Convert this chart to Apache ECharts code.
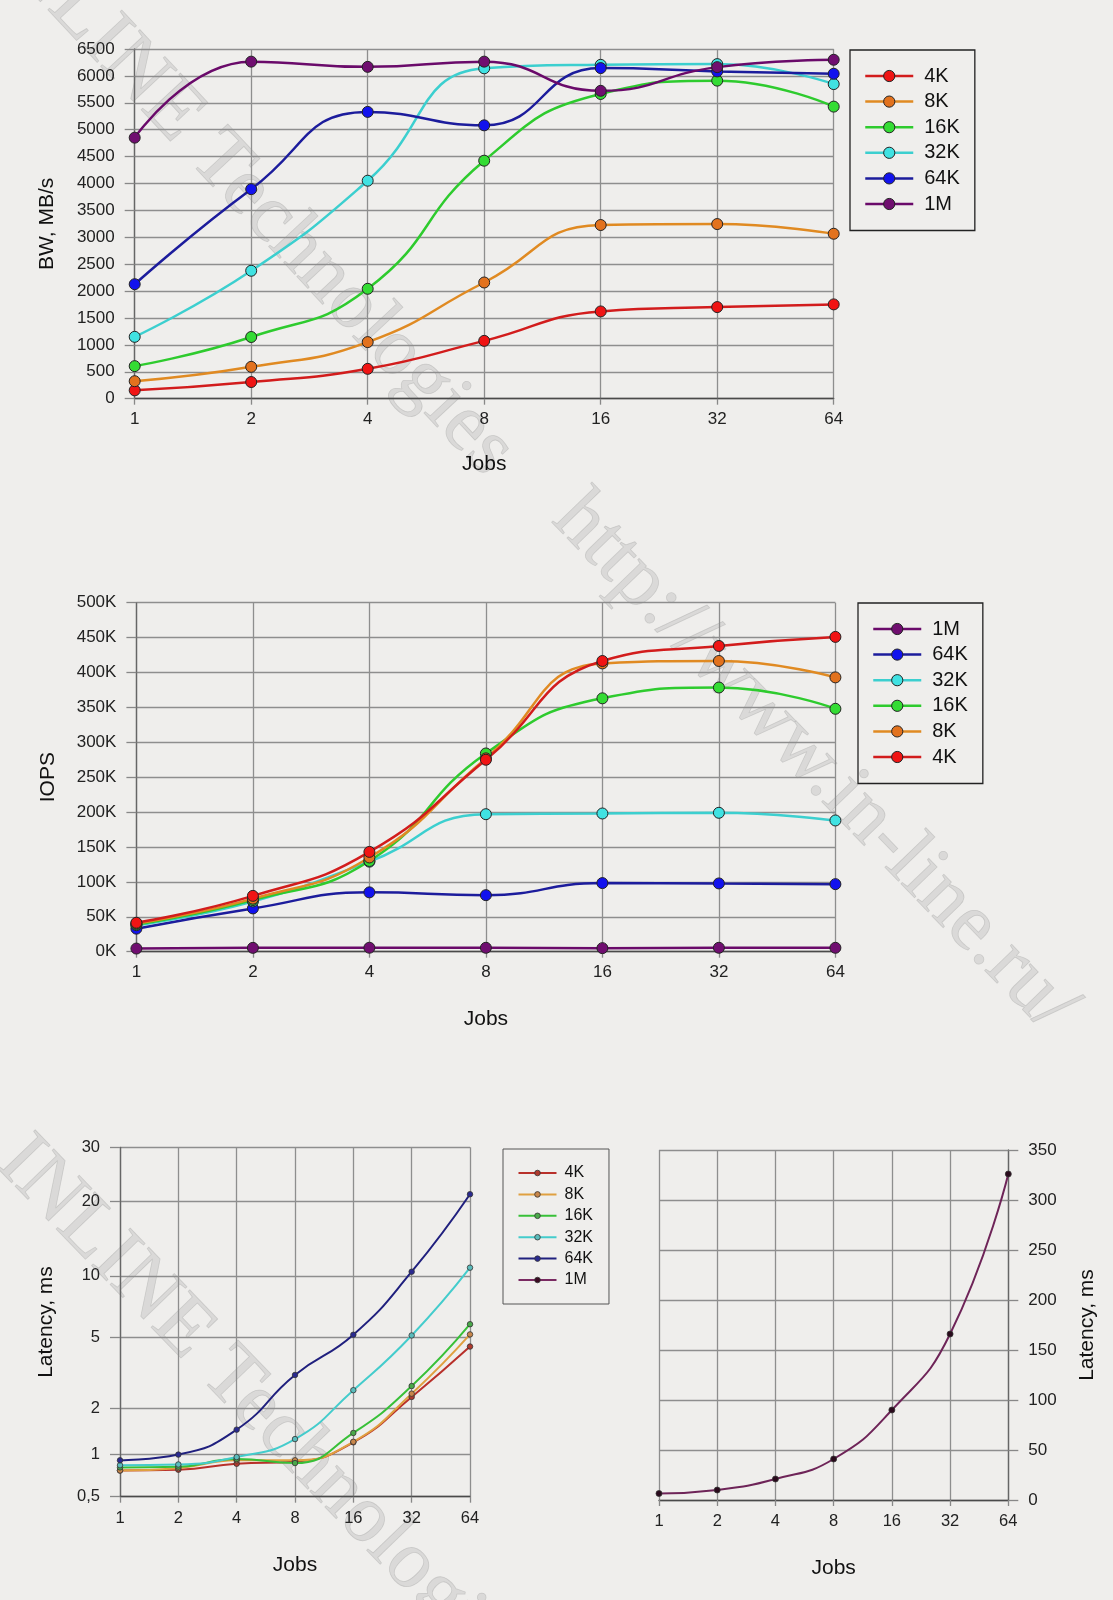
<!DOCTYPE html>
<html>
<head>
<meta charset="utf-8">
<title>Jobs: BW, IOPS, Latency</title>
<script src="https://cdn.jsdelivr.net/npm/echarts@6/dist/echarts.min.js"></script>
<style>
  html, body { margin: 0; padding: 0; background: #efeeec; }
  .layer { position: absolute; left: 0; top: 0; width: 1113px; height: 1600px; }
</style>
</head>
<body>
<div id="mark" class="layer"></div>
<div id="bw" class="layer"></div>
<div id="iops" class="layer"></div>
<div id="lat" class="layer"></div>
<div id="lat1m" class="layer"></div>
<script>
const jobs = ['1', '2', '4', '8', '16', '32', '64'];

// bandwidth, MB/s
const bw4K = [155, 310, 555, 1075, 1622, 1703, 1753];
const bw8K = [325, 592, 1052, 2160, 3228, 3246, 3066];
const bw16K = [605, 1147, 2043, 4424, 5664, 5912, 5429];
const bw32K = [1150, 2378, 4052, 6141, 6206, 6219, 5848];
const bw64K = [2128, 3895, 5331, 5081, 6145, 6083, 6040];
const bw1M = [4852, 6265, 6168, 6265, 5723, 6163, 6300];

// IOPS
const iops1M = [4500, 5500, 5700, 5600, 5100, 5600, 5600];
const iops64K = [33000, 62000, 85000, 81000, 98300, 97800, 96800];
const iops32K = [38000, 72000, 129000, 197000, 198000, 199000, 188000];
const iops16K = [39000, 74000, 130000, 284000, 363000, 378500, 348000];
const iops8K = [40500, 76000, 135000, 277000, 413000, 416500, 393000];
const iops4K = [41500, 80000, 143000, 275000, 416500, 438000, 451000];

// latency, ms
const lat4K = [0.77, 0.78, 0.86, 0.89, 1.2, 2.31, 4.44];
const lat8K = [0.77, 0.80, 0.91, 0.91, 1.21, 2.41, 5.17];
const lat16K = [0.81, 0.82, 0.93, 0.87, 1.38, 2.66, 5.8];
const lat32K = [0.84, 0.85, 0.96, 1.26, 2.52, 5.11, 10.8];
const lat64K = [0.91, 1.0, 1.45, 3.07, 5.15, 10.4, 21.1];
const lat1M = [6.5, 10, 21, 41, 90, 166, 326];

// tick labels of the latency axis and where the source puts them (0..1, bottom to top)
const latTicks = [0.5, 1, 2, 5, 10, 20, 30];
const latStops = [0, 0.1205, 0.2538, 0.456, 0.6318, 0.8452, 1];

const FONT = '"Liberation Sans", Arial, sans-serif';

// log interpolation between neighbouring ticks
function latPos(v) {
  let i = 0;
  while (i < latTicks.length - 2 && v > latTicks[i + 1]) i++;
  const t = Math.log(v / latTicks[i]) / Math.log(latTicks[i + 1] / latTicks[i]);
  return latStops[i] + t * (latStops[i + 1] - latStops[i]);
}

function jobsAxis(nameGap, fontSize, margin) {
  return {
    type: 'category',
    data: jobs,
    boundaryGap: false,
    name: 'Jobs',
    nameLocation: 'middle',
    nameGap: nameGap,
    nameTextStyle: { fontFamily: FONT, fontSize: 21, color: '#111' },
    axisLine: { lineStyle: { color: '#4a4a4a', width: 1.3 } },
    axisTick: { show: true, interval: 0, length: 6, lineStyle: { color: '#888', width: 1.3 } },
    axisLabel: { interval: 0, fontFamily: FONT, fontSize: fontSize, color: '#222', margin: margin },
    splitLine: { show: true, interval: 0, lineStyle: { color: '#8e8e8e', width: 1.3 } },
  };
}

function valueAxis(extra) {
  return Object.assign({
    type: 'value',
    nameLocation: 'middle',
    nameTextStyle: { fontFamily: FONT, fontSize: 21, color: '#111' },
    axisLine: { show: true, lineStyle: { color: '#666', width: 1.3 } },
    axisTick: { show: true, length: 10, lineStyle: { color: '#888', width: 1.3 } },
    axisLabel: { fontFamily: FONT, fontSize: 17, color: '#222', margin: 20, formatter: v => String(v) },
    splitLine: { show: true, lineStyle: { color: '#8e8e8e', width: 1.3 } },
  }, extra);
}

function bigLine(name, data, line, fill) {
  return {
    name: name, type: 'line', data: data, smooth: 0.5,
    symbol: 'circle', symbolSize: 11,
    lineStyle: { color: line, width: 2.5 },
    itemStyle: { color: fill, borderColor: '#222', borderWidth: 1 },
  };
}

function smallLine(name, data, line, fill) {
  return {
    name: name, type: 'line', data: data, smooth: 0.5,
    symbol: 'circle', symbolSize: 5.5,
    lineStyle: { color: line, width: 2 },
    itemStyle: { color: fill, borderColor: '#333', borderWidth: 0.8 },
  };
}

function bigLegend(left, top, names) {
  return {
    orient: 'vertical', left: left, top: top,
    padding: [16, 15, 16.5, 14],
    itemWidth: 48, itemHeight: 14, itemGap: 5.6,
    borderColor: '#222', borderWidth: 1.3,
    textStyle: { fontFamily: FONT, fontSize: 20, color: '#111', padding: [0, 0, 0, 6] },
    lineStyle: { width: 2.5 },
    itemStyle: { borderColor: '#222', borderWidth: 1 },
    data: names,
  };
}

// watermark
const mark = echarts.init(document.getElementById('mark'));
const wmStyle = {
  fontFamily: '"Liberation Serif", "DejaVu Serif", serif', fontSize: 82,
  fill: 'rgba(175,175,175,0.32)', stroke: 'rgba(135,135,135,0.3)', lineWidth: 0.8,
  align: 'left', verticalAlign: 'middle',
};
mark.setOption({
  graphic: [
    { type: 'text', x: 3, y: -70, rotation: -47 * Math.PI / 180,
      style: Object.assign({ text: 'INLINE Technologies' }, wmStyle) },
    { type: 'text', x: 566, y: 506, rotation: -46 * Math.PI / 180,
      style: Object.assign({ text: 'http://www.in-line.ru/' }, wmStyle) },
    { type: 'text', x: 10, y: 1150, rotation: -46 * Math.PI / 180,
      style: Object.assign({ text: 'INLINE Technologies' }, wmStyle) },
  ],
});

// BW
const bwChart = echarts.init(document.getElementById('bw'));
bwChart.setOption({
  animation: false,
  grid: { left: 134.7, top: 49, width: 699, height: 349.7 },
  legend: bigLegend(850, 50, ['4K', '8K', '16K', '32K', '64K', '1M']),
  xAxis: jobsAxis(55, 17, 12),
  yAxis: valueAxis({ min: 0, max: 6500, interval: 500, name: 'BW, MB/s', nameGap: 77 }),
  series: [
    bigLine('4K', bw4K, '#d21c1c', '#f01414'),
    bigLine('8K', bw8K, '#e08a22', '#e2721e'),
    bigLine('16K', bw16K, '#2ecb2e', '#34dc34'),
    bigLine('32K', bw32K, '#3ccfcf', '#40e2e2'),
    bigLine('64K', bw64K, '#1c1c9c', '#1212ee'),
    bigLine('1M', bw1M, '#6a0a6a', '#700e70'),
  ],
});

// IOPS
const iopsChart = echarts.init(document.getElementById('iops'));
iopsChart.setOption({
  animation: false,
  grid: { left: 136.4, top: 602.7, width: 699, height: 349 },
  legend: bigLegend(858, 603, ['1M', '64K', '32K', '16K', '8K', '4K']),
  xAxis: jobsAxis(57, 17, 12),
  yAxis: valueAxis({
    min: 0, max: 500000, interval: 50000, name: 'IOPS', nameGap: 78,
    axisLabel: { fontFamily: FONT, fontSize: 17, color: '#222', margin: 20,
      formatter: v => (v / 1000) + 'K' },
  }),
  series: [
    bigLine('1M', iops1M, '#6a0a6a', '#700e70'),
    bigLine('64K', iops64K, '#1c1c9c', '#1212ee'),
    bigLine('32K', iops32K, '#3ccfcf', '#40e2e2'),
    bigLine('16K', iops16K, '#2ecb2e', '#34dc34'),
    bigLine('8K', iops8K, '#e08a22', '#e2721e'),
    bigLine('4K', iops4K, '#d21c1c', '#f01414'),
  ],
});

// latency, uneven log-like axis
const latChart = echarts.init(document.getElementById('lat'));
latChart.setOption({
  animation: false,
  grid: { left: 120, top: 1147.3, width: 350, height: 349.4 },
  legend: {
    orient: 'vertical', left: 503, top: 1149,
    padding: [16, 16, 16, 14.5],
    itemWidth: 38, itemHeight: 7, itemGap: 5.4,
    borderColor: '#555', borderWidth: 1,
    textStyle: { fontFamily: FONT, fontSize: 16, color: '#111', padding: [0, 0, 0, 3] },
    lineStyle: { width: 2 },
    itemStyle: { borderColor: '#333', borderWidth: 0.8 },
    data: ['4K', '8K', '16K', '32K', '64K', '1M'],
  },
  xAxis: jobsAxis(58, 16.5, 13),
  yAxis: valueAxis({
    min: 0, max: 1, name: 'Latency, ms', nameGap: 63,
    axisTick: { show: true, length: 10, customValues: latStops, lineStyle: { color: '#888', width: 1.3 } },
    axisLabel: {
      fontFamily: FONT, fontSize: 16.5, color: '#222', margin: 20, customValues: latStops,
      formatter: function (v) {
        let k = 0;
        latStops.forEach((s, i) => { if (Math.abs(s - v) < Math.abs(latStops[k] - v)) k = i; });
        return String(latTicks[k]).replace('.', ',');
      },
    },
  }),
  series: [
    smallLine('4K', lat4K.map(latPos), '#b8302a', '#b03a2e'),
    smallLine('8K', lat8K.map(latPos), '#e0a040', '#c8864a'),
    smallLine('16K', lat16K.map(latPos), '#38c038', '#4aa84a'),
    smallLine('32K', lat32K.map(latPos), '#44cccc', '#5abcbc'),
    smallLine('64K', lat64K.map(latPos), '#20207e', '#2a2a90'),
    smallLine('1M', [], '#7a2a62', '#3a0a22'),
  ],
});

// latency 1M, linear
const lat1mChart = echarts.init(document.getElementById('lat1m'));
lat1mChart.setOption({
  animation: false,
  grid: { left: 659, top: 1150, width: 349.3, height: 350 },
  xAxis: jobsAxis(58, 16.5, 13),
  yAxis: valueAxis({
    position: 'right', min: 0, max: 350, interval: 50, name: 'Latency, ms', nameGap: 68,
  }),
  series: [
    Object.assign(smallLine('1M', lat1M, '#6e2458', '#2a0a1c'), { symbolSize: 6 }),
  ],
});
</script>
</body>
</html>
